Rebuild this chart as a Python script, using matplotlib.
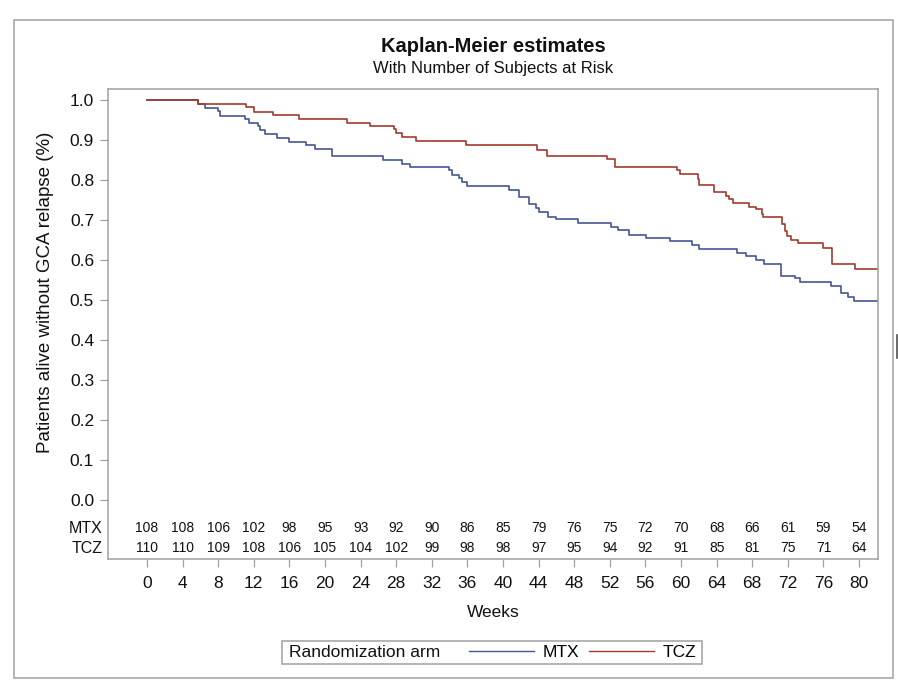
import matplotlib
matplotlib.use("Agg")
import matplotlib.pyplot as plt
from matplotlib.patches import Rectangle
from matplotlib.lines import Line2D
import matplotlib.transforms as mtransforms

plt.rcParams["font.family"] = ["Liberation Sans", "DejaVu Sans"]

_color_mtx = "#445694"
_color_tcz = "#A23A2E"
_color_frame = "#A0A0A0"

# Kaplan-Meier step values
mtx_weeks = [0, 5.7, 6.5, 8.0, 8.2, 11.0, 11.5, 12.5, 12.7, 13.3, 14.6, 16.0, 17.9, 18.9,
             20.8, 26.5, 28.7, 29.5, 33.9, 34.3, 35.0, 35.4, 36.0, 40.7, 41.8, 42.9, 43.7,
             44.0, 45.1, 46.0, 48.4, 52.1, 52.9, 54.2, 56.1, 58.8, 61.2, 62.0, 66.3, 67.3,
             68.4, 69.3, 71.2, 72.8, 73.4, 76.8, 78.0, 78.8, 79.4, 82.2]
mtx_surv = [1.0, 0.991, 0.981, 0.973, 0.959, 0.953, 0.943, 0.935, 0.925, 0.916, 0.904,
            0.894, 0.888, 0.877, 0.860, 0.850, 0.840, 0.833, 0.825, 0.812, 0.804, 0.796,
            0.785, 0.775, 0.758, 0.740, 0.729, 0.719, 0.708, 0.702, 0.692, 0.682, 0.675,
            0.663, 0.654, 0.647, 0.638, 0.628, 0.617, 0.611, 0.599, 0.590, 0.561, 0.554,
            0.544, 0.534, 0.518, 0.507, 0.497, 0.497]

tcz_weeks = [0, 5.7, 11.1, 12.0, 14.2, 17.1, 22.5, 25.1, 27.8, 28.0, 28.7, 30.2, 35.8,
             43.8, 44.9, 51.7, 52.6, 59.6, 59.9, 61.9, 62.0, 63.7, 65.0, 65.4, 65.8, 67.6,
             68.4, 69.1, 69.2, 71.4, 71.7, 71.9, 72.4, 73.1, 76.0, 77.0, 79.6, 82.2]
tcz_surv = [1.0, 0.989, 0.983, 0.969, 0.963, 0.953, 0.942, 0.936, 0.927, 0.917, 0.908,
            0.898, 0.887, 0.875, 0.860, 0.852, 0.833, 0.825, 0.816, 0.802, 0.788, 0.771,
            0.761, 0.752, 0.743, 0.733, 0.727, 0.716, 0.707, 0.690, 0.673, 0.659, 0.650,
            0.643, 0.629, 0.590, 0.578, 0.578]

# number at risk table
risk_weeks = list(range(0, 81, 4))
risk_mtx = [108, 108, 106, 102, 98, 95, 93, 92, 90, 86, 85, 79, 76, 75, 72, 70, 68, 66, 61, 59, 54]
risk_tcz = [110, 110, 109, 108, 106, 105, 104, 102, 99, 98, 98, 97, 95, 94, 92, 91, 85, 81, 75, 71, 64]

y_ticks = [0.0, 0.1, 0.2, 0.3, 0.4, 0.5, 0.6, 0.7, 0.8, 0.9, 1.0]

W, H = 898, 682
fig = plt.figure(figsize=(W / 100, H / 100), dpi=100)
ax = fig.add_axes([108 / W, 1 - 559 / H, (878 - 108) / W, (559 - 89) / H])

ax.step(mtx_weeks, mtx_surv, where="post", color=_color_mtx, lw=1.2)
ax.step(tcz_weeks, tcz_surv, where="post", color=_color_tcz, lw=1.2)

ax.set_xlim(-4.38, 82.13)
ax.set_ylim(-0.147, 1.0274)

ax.set_xticks(risk_weeks)
ax.set_yticks(y_ticks)
ax.set_yticklabels([f"{v:.1f}" for v in y_ticks])

for s in ax.spines.values():
    s.set_color(_color_frame)
    s.set_linewidth(1.1)

ax.tick_params(axis="both", colors=_color_frame, labelcolor="#111111", length=6,
               width=0.9, labelsize=12.5)
ax.tick_params(axis="x", pad=6)
ax.tick_params(axis="y", pad=4)

ax.set_ylabel("Patients alive without GCA relapse (%)", fontsize=13.5, color="#111111")
ax.yaxis.set_label_coords(-0.07, 0.568)
ax.set_xlabel("Weeks", fontsize=12.5, color="#111111")
ax.xaxis.set_label_coords(0.5, -0.098)

# at-risk rows inside the axes
for wk, m, t in zip(risk_weeks, risk_mtx, risk_tcz):
    ax.text(wk, -0.070, str(m), ha="center", va="center", fontsize=10, color="#111111")
    ax.text(wk, -0.120, str(t), ha="center", va="center", fontsize=10, color="#111111")

trans = mtransforms.blended_transform_factory(ax.transAxes, ax.transData)
ax.text(-0.007, -0.070, "MTX", transform=trans, ha="right", va="center", fontsize=11.5,
        color="#111111")
ax.text(-0.007, -0.120, "TCZ", transform=trans, ha="right", va="center", fontsize=11.5,
        color="#111111")

# titles
fig.text(493 / W, 1 - 47 / H, "Kaplan-Meier estimates", ha="center", va="center",
         fontsize=14.5, fontweight="bold", color="#111111")
fig.text(493 / W, 1 - 69 / H, "With Number of Subjects at Risk", ha="center", va="center",
         fontsize=12, color="#111111")

# outer frame
fig.patches.append(Rectangle((14 / W, 1 - 678 / H), (893 - 14) / W, (678 - 20) / H,
                             transform=fig.transFigure, fill=False,
                             edgecolor=_color_frame, lw=1.1))
fig.add_artist(Line2D([897 / W, 897 / W], [1 - 335 / H, 1 - 358 / H],
                      transform=fig.transFigure, color="#505050", lw=1.2))

# legend box
fig.patches.append(Rectangle((282 / W, 1 - 664 / H), (702 - 282) / W, (664 - 641) / H,
                             transform=fig.transFigure, fill=False,
                             edgecolor=_color_frame, lw=1.1))
fig.text(289 / W, 1 - 652.5 / H, "Randomization arm", ha="left", va="center",
         fontsize=12.5, color="#111111")
handles = [Line2D([], [], color=_color_mtx, lw=1.0), Line2D([], [], color=_color_tcz, lw=1.0)]
fig.legend(handles, ["MTX", "TCZ"], loc="center left",
           bbox_to_anchor=(469 / W, 1 - 652.5 / H), ncol=2, frameon=False,
           fontsize=12.5, handlelength=3.75, handletextpad=0.5, columnspacing=0.55,
           borderpad=0, borderaxespad=0)

fig.savefig("out.png", dpi=100)
